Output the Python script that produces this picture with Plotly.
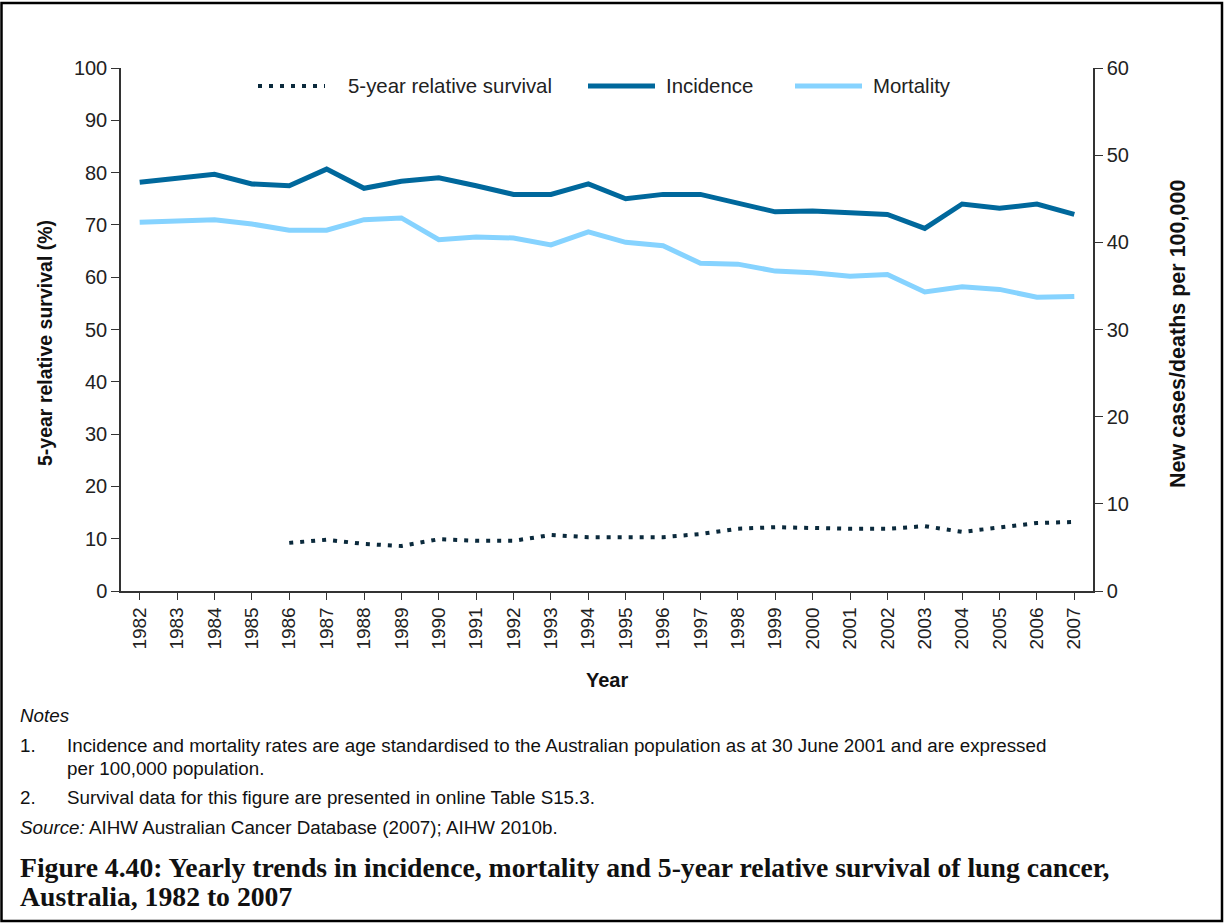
import plotly.graph_objects as go

years = list(range(1982, 2008))
incidence = [46.9, 47.3, 47.8, 46.7, 46.5, 48.4, 46.2, 47.0, 47.4, 46.5, 45.5, 45.5, 46.7,
             45.0, 45.5, 45.5, 44.5, 43.5, 43.6, 43.4, 43.2, 41.6, 44.4, 43.9, 44.4, 43.2]
mortality = [42.3, 42.4, 42.6, 42.1, 41.4, 41.4, 42.6, 42.8, 40.3, 40.6, 40.5, 39.7, 41.2,
             40.0, 39.6, 37.6, 37.5, 36.7, 36.5, 36.1, 36.3, 34.3, 34.9, 34.6, 33.7, 33.8]
surv_years = list(range(1986, 2008))
survival = [9.2, 9.8, 9.0, 8.6, 9.9, 9.6, 9.6, 10.7, 10.3, 10.3, 10.3, 10.9, 11.9, 12.2,
            12.0, 11.9, 11.9, 12.4, 11.3, 12.2, 13.0, 13.2]

left_ticks = list(range(0, 101, 10))
right_ticks = list(range(0, 61, 10))

FONT = "Liberation Sans, Arial, sans-serif"
SERIF = "Liberation Serif, DejaVu Serif, serif"

C_SURV = "#0b2a3c"
C_INC = "#00689c"
C_MORT = "#86d3ff"
SURV_DASH = "4px,7px"

fig = go.Figure()
fig.add_trace(go.Scatter(x=surv_years, y=survival, name="5-year relative survival",
                         mode="lines", line=dict(color=C_SURV, width=4, dash=SURV_DASH),
                         yaxis="y"))
fig.add_trace(go.Scatter(x=years, y=incidence, name="Incidence", mode="lines",
                         line=dict(color=C_INC, width=5), yaxis="y2"))
fig.add_trace(go.Scatter(x=years, y=mortality, name="Mortality", mode="lines",
                         line=dict(color=C_MORT, width=5), yaxis="y2"))

L, R, T, B = 121, 1093, 68, 591
W, H = 1224, 924
pw, ph = R - L, B - T

def px(x):
    return (x - L) / pw

def py(y):
    return (B - y) / ph

ytick_font = dict(family=FONT, size=20, color="#222")
xtick_font = dict(family=FONT, size=19, color="#222")
fig.update_layout(
    width=W, height=H,
    margin=dict(l=L, r=W - R, t=T, b=H - B, pad=0),
    paper_bgcolor="white", plot_bgcolor="white",
    showlegend=False,
    xaxis=dict(range=[1981.5, 2007.5], tickmode="array", tickvals=years,
               ticktext=[str(y) for y in years], tickangle=-90, ticks="outside",
               ticklen=7, tickcolor="#333", showline=True, linecolor="#333", linewidth=1.5,
               showgrid=False, zeroline=False, tickfont=xtick_font),
    yaxis=dict(range=[0, 100], tickmode="array", tickvals=left_ticks, ticks="outside",
               ticklen=8, tickcolor="#333", showline=True, linecolor="#333", linewidth=1.5,
               showgrid=False, zeroline=False, tickfont=ytick_font),
    yaxis2=dict(range=[0, 60], tickmode="array", tickvals=right_ticks, ticks="outside",
                ticklen=8, tickcolor="#333", showline=True, linecolor="#333", linewidth=1.5,
                showgrid=False, zeroline=False, tickfont=ytick_font, overlaying="y",
                side="right"),
)

ann = []
ann.append(dict(text="<b>5-year relative survival (%)</b>", x=px(45), y=py(343),
                textangle=-90, font=dict(family=FONT, size=19.5, color="#111")))
ann.append(dict(text="<b>New cases/deaths per 100,000</b>", x=px(1178), y=py(334),
                textangle=-90, font=dict(family=FONT, size=21.5, color="#111")))
ann.append(dict(text="<b>Year</b>", x=px(607), y=py(680),
                font=dict(family=FONT, size=20, color="#111")))

# legend (manual)
leg_font = dict(family=FONT, size=20.4, color="#222")
leg_items = [
    ("5-year relative survival", 258, 325, 346, C_SURV, 4, SURV_DASH),
    ("Incidence", 588, 655, 664, C_INC, 5, "solid"),
    ("Mortality", 795, 862, 871, C_MORT, 5, "solid"),
]
for name, s0, s1, tx, col, wd, dash in leg_items:
    fig.add_shape(type="line", xref="paper", yref="paper", x0=px(s0), x1=px(s1),
                  y0=py(86), y1=py(86), line=dict(color=col, width=wd, dash=dash))
    ann.append(dict(text=name, x=px(tx), y=py(86), xanchor="left", font=leg_font))

note_font = dict(family=FONT, size=18.8, color="#111")
left_notes = [
    ("<i>Notes</i>", 18, 715),
    ("1.", 18, 745),
    ("Incidence and mortality rates are age standardised to the Australian population as at 30 June 2001 and are expressed", 65, 745),
    ("per 100,000 population.", 65, 768),
    ("2.", 18, 797),
    ("Survival data for this figure are presented in online Table S15.3.", 65, 797),
    ("<i>Source:</i> AIHW Australian Cancer Database (2007); AIHW 2010b.", 18, 827),
]
for t, x, y in left_notes:
    ann.append(dict(text=t, x=px(x), y=py(y), xanchor="left", font=note_font))
cap_font = dict(family=SERIF, size=27.7, color="#111")
ann.append(dict(text="<b>Figure 4.40: Yearly trends in incidence, mortality and 5-year relative survival of lung cancer,</b>",
                x=px(18), y=py(867), xanchor="left", font=cap_font))
ann.append(dict(text="<b>Australia, 1982 to 2007</b>", x=px(18), y=py(896), xanchor="left",
                font=cap_font))
for a in ann:
    a.update(xref="paper", yref="paper", showarrow=False, yanchor="middle")
    a.setdefault("xanchor", "center")
fig.update_layout(annotations=ann)

fig.add_shape(type="rect", xref="paper", yref="paper", x0=px(1.5), x1=px(1222), y0=py(3),
              y1=py(921), line=dict(color="black", width=2.5), fillcolor="rgba(0,0,0,0)",
              layer="above")

fig.write_html("out.html", config={"displayModeBar": False},
               post_script="document.body.style.margin='0';document.body.style.overflow='hidden';")
